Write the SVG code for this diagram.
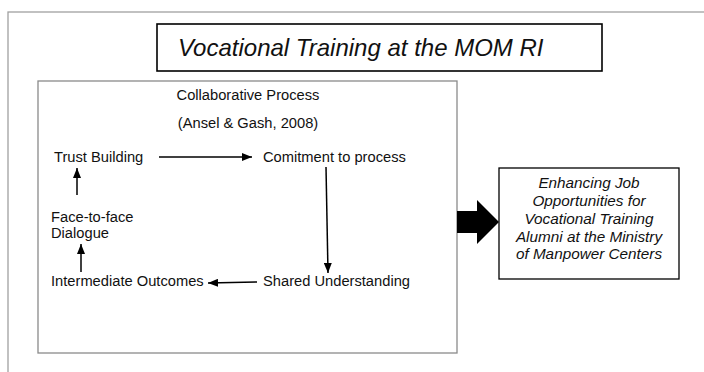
<svg xmlns="http://www.w3.org/2000/svg" width="704" height="372" viewBox="0 0 704 372">
  <defs>
    <marker id="ah" viewBox="0 0 10 8" refX="10" refY="4" markerWidth="10" markerHeight="8" markerUnits="userSpaceOnUse" orient="auto">
      <path d="M0,0 L10,4 L0,8 z" fill="#000"/>
    </marker>
  </defs>
  <style>
    .lbl { font-family: "Liberation Sans", Arial, sans-serif; font-size: 14.7px; fill: #111; }
    .it { font-family: "Liberation Sans", Arial, sans-serif; font-size: 15.3px; font-style: italic; fill: #111; }
    .conn { stroke: #000; stroke-width: 1.5; fill: none; marker-end: url(#ah); }
  </style>
  <rect width="704" height="372" fill="#fff"/>
  <!-- outer frame -->
  <rect x="8" y="12" width="720" height="380" fill="none" stroke="#a0a0a0" stroke-width="1.3"/>

  <g id="title">
    <rect x="157" y="24" width="445" height="47" fill="#fff" stroke="#000" stroke-width="1.6"/>
    <text x="178" y="56" font-family="Liberation Sans, Arial, sans-serif" font-size="24" font-style="italic" fill="#111">Vocational Training at the MOM RI</text>
  </g>

  <g id="process">
    <rect x="38" y="81" width="419" height="272" fill="#fff" stroke="#8a8a8a" stroke-width="1.3"/>
    <text class="lbl" x="248" y="100" text-anchor="middle">Collaborative Process</text>
    <text class="lbl" x="248" y="128" text-anchor="middle">(Ansel &amp; Gash, 2008)</text>
  </g>

  <g id="trust"><text class="lbl" x="54" y="162">Trust Building</text></g>
  <g id="commitment"><text class="lbl" x="263" y="162">Comitment to process</text></g>
  <g id="shared"><text class="lbl" x="263" y="286">Shared Understanding</text></g>
  <g id="intermediate"><text class="lbl" x="51" y="286">Intermediate Outcomes</text></g>
  <g id="dialogue">
    <text class="lbl" x="51" y="222">Face-to-face</text>
    <text class="lbl" x="51" y="238">Dialogue</text>
  </g>

  <g id="outcome">
    <rect x="499" y="168" width="180" height="111" fill="#fff" stroke="#000" stroke-width="1.3"/>
    <text class="it" x="589" y="188" text-anchor="middle">Enhancing Job</text>
    <text class="it" x="589" y="206" text-anchor="middle">Opportunities for</text>
    <text class="it" x="589" y="224" text-anchor="middle">Vocational Training</text>
    <text class="it" x="589" y="242" text-anchor="middle">Alumni at the Ministry</text>
    <text class="it" x="589" y="259" text-anchor="middle">of Manpower Centers</text>
  </g>

  <g id="connectors">
    <line class="conn" x1="159" y1="157" x2="252" y2="157"/>
    <line class="conn" x1="326" y1="167" x2="328" y2="273"/>
    <line class="conn" x1="257" y1="282" x2="208" y2="283"/>
    <line class="conn" x1="81" y1="272" x2="81" y2="244"/>
    <line class="conn" x1="77" y1="195" x2="77" y2="168"/>
    <path d="M457,211 L477,211 L477,200 L499,222 L477,244 L477,233 L457,233 z" fill="#000"/>
  </g>
</svg>
